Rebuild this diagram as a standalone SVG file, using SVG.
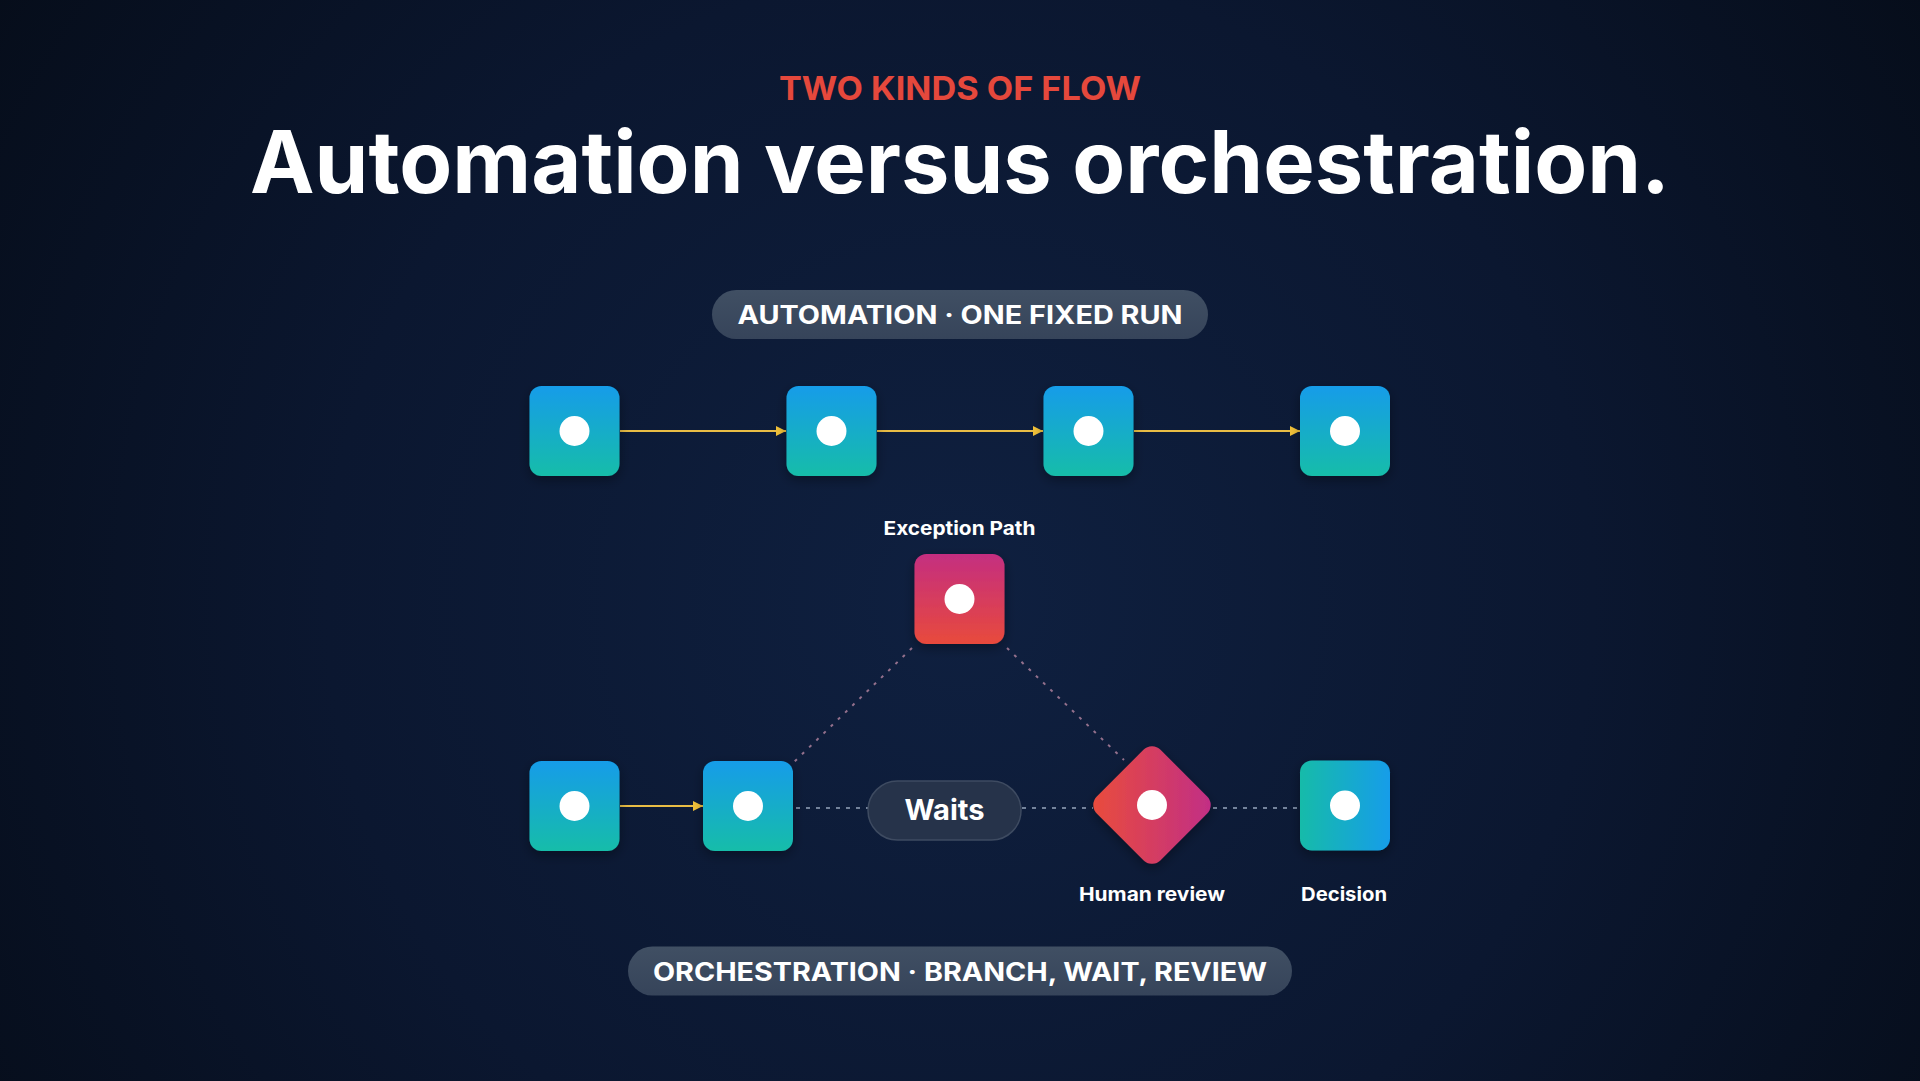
<svg xmlns="http://www.w3.org/2000/svg" width="1920" height="1081" viewBox="0 0 1920 1081">
<defs>
<radialGradient id="bg" cx="960" cy="600" r="1150" gradientUnits="userSpaceOnUse">
<stop offset="0" stop-color="#0f2040"/>
<stop offset="0.55" stop-color="#0b1730"/>
<stop offset="1" stop-color="#060d1a"/>
</radialGradient>
<linearGradient id="gBlue" x1="0" y1="0" x2="0" y2="1">
<stop offset="0" stop-color="#139ce9"/>
<stop offset="1" stop-color="#17bda9"/>
</linearGradient>
<linearGradient id="gBlueH" x1="0" y1="0" x2="1" y2="0">
<stop offset="0" stop-color="#17bba9"/>
<stop offset="1" stop-color="#139de9"/>
</linearGradient>
<linearGradient id="gRed" x1="0" y1="0" x2="0" y2="1">
<stop offset="0" stop-color="#c42e80"/>
<stop offset="1" stop-color="#e84a3c"/>
</linearGradient>
<linearGradient id="gDiamond" x1="0" y1="1" x2="1" y2="0">
<stop offset="0" stop-color="#ea4d3a"/>
<stop offset="1" stop-color="#c02d88"/>
</linearGradient>
<linearGradient id="gPill" x1="0" y1="0" x2="0" y2="1">
<stop offset="0" stop-color="#404f63"/>
<stop offset="1" stop-color="#36445a"/>
</linearGradient>
<marker id="arr" viewBox="0 0 10 10" refX="10" refY="5" markerWidth="10" markerHeight="10" markerUnits="userSpaceOnUse" orient="auto">
<path d="M0,0 L10,5 L0,10 Z" fill="#f2c23a"/>
</marker>
<filter id="sh" x="-30%" y="-30%" width="160%" height="160%">
<feDropShadow dx="0" dy="4" stdDeviation="6" flood-color="#000" flood-opacity="0.35"/>
</filter>
</defs>
<style>
.t{font-family:Inter,"Open Sans","Liberation Sans",sans-serif;font-weight:700;fill:#ffffff;text-anchor:middle}
.flow{stroke:#e9bd45;stroke-width:2;fill:none}
.dash{stroke:#74839b;stroke-width:2;stroke-dasharray:4 6;fill:none}
.dashp{stroke:#93708c;stroke-width:2;stroke-dasharray:3 7;fill:none}
.dot{fill:#ffffff}
.pill{fill:url(#gPill)}
</style>
<rect width="1920" height="1081" fill="url(#bg)"/>

<text class="t" x="960" y="100" font-size="33" style="fill:#e5483c" textLength="362" lengthAdjust="spacingAndGlyphs">TWO KINDS OF FLOW</text>
<text class="t" x="960" y="193" font-size="86" textLength="1420" lengthAdjust="spacingAndGlyphs">Automation versus orchestration.</text>

<g id="pill-automation">
<rect class="pill" x="712" y="290" width="496" height="49" rx="24.5"/>
<text class="t" x="960" y="324" font-size="25" textLength="445" lengthAdjust="spacingAndGlyphs">AUTOMATION · ONE FIXED RUN</text>
</g>

<g id="connectors">
<line class="flow" x1="620" y1="431" x2="786" y2="431" marker-end="url(#arr)"/>
<line class="flow" x1="877" y1="431" x2="1043" y2="431" marker-end="url(#arr)"/>
<line class="flow" x1="1134" y1="431" x2="1300" y2="431" marker-end="url(#arr)"/>
<line class="flow" x1="620" y1="806" x2="703" y2="806" marker-end="url(#arr)"/>
<line class="dash" x1="796" y1="808" x2="868" y2="808"/>
<line class="dash" x1="1022" y1="808" x2="1093" y2="808"/>
<line class="dash" x1="1213" y1="808" x2="1299" y2="808"/>
<line class="dashp" x1="912" y1="648" x2="794" y2="762"/>
<line class="dashp" x1="1007" y1="648" x2="1124" y2="760"/>
</g>

<g id="a1" filter="url(#sh)"><rect x="529.5" y="386" width="90" height="90" rx="12" fill="url(#gBlue)"/><circle class="dot" cx="574.5" cy="431" r="15"/></g>
<g id="a2" filter="url(#sh)"><rect x="786.5" y="386" width="90" height="90" rx="12" fill="url(#gBlue)"/><circle class="dot" cx="831.5" cy="431" r="15"/></g>
<g id="a3" filter="url(#sh)"><rect x="1043.5" y="386" width="90" height="90" rx="12" fill="url(#gBlue)"/><circle class="dot" cx="1088.5" cy="431" r="15"/></g>
<g id="a4" filter="url(#sh)"><rect x="1300" y="386" width="90" height="90" rx="12" fill="url(#gBlue)"/><circle class="dot" cx="1345" cy="431" r="15"/></g>

<g id="exception">
<text class="t" x="959.5" y="535" font-size="19" textLength="152" lengthAdjust="spacingAndGlyphs">Exception Path</text>
<g filter="url(#sh)"><rect x="914.5" y="554" width="90" height="90" rx="12" fill="url(#gRed)"/><circle class="dot" cx="959.5" cy="599" r="15"/></g>
</g>

<g id="o1" filter="url(#sh)"><rect x="529.5" y="761" width="90" height="90" rx="12" fill="url(#gBlue)"/><circle class="dot" cx="574.5" cy="806" r="15"/></g>
<g id="o2" filter="url(#sh)"><rect x="703" y="761" width="90" height="90" rx="12" fill="url(#gBlue)"/><circle class="dot" cx="748" cy="806" r="15"/></g>

<g id="waits">
<rect x="868" y="781" width="153" height="59" rx="29.5" fill="#26334a" stroke="#3e4b61" stroke-width="1.5"/>
<text class="t" x="944.5" y="820" font-size="28" textLength="80" lengthAdjust="spacingAndGlyphs">Waits</text>
</g>

<g id="human-review">
<g filter="url(#sh)"><rect x="1107" y="760" width="90" height="90" rx="12" fill="url(#gDiamond)" transform="rotate(45 1152 805)"/><circle class="dot" cx="1152" cy="805" r="15"/></g>
<text class="t" x="1152" y="901" font-size="19" textLength="146" lengthAdjust="spacingAndGlyphs">Human review</text>
</g>

<g id="decision">
<g filter="url(#sh)"><rect x="1300" y="760.5" width="90" height="90" rx="12" fill="url(#gBlueH)"/><circle class="dot" cx="1345" cy="805.5" r="15"/></g>
<text class="t" x="1344" y="901" font-size="19" textLength="86" lengthAdjust="spacingAndGlyphs">Decision</text>
</g>

<g id="pill-orchestration">
<rect class="pill" x="628" y="946.5" width="664" height="49" rx="24.5"/>
<text class="t" x="960" y="981" font-size="25" textLength="614" lengthAdjust="spacingAndGlyphs">ORCHESTRATION · BRANCH, WAIT, REVIEW</text>
</g>
</svg>
